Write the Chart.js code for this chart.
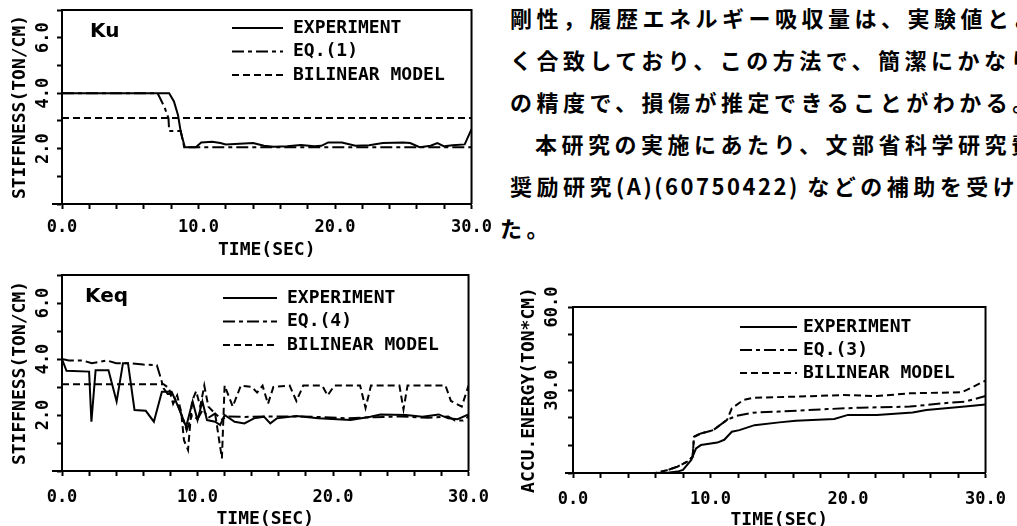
<!DOCTYPE html>
<html>
<head>
<meta charset="utf-8">
<script src="https://cdn.jsdelivr.net/npm/chart.js@4.4.1/dist/chart.umd.min.js"></script>
<style>
html,body{margin:0;padding:0;background:#fff;width:1017px;height:526px;overflow:hidden;position:relative}
canvas{position:absolute;display:block}
.jp{position:absolute;font-family:"Noto Sans CJK JP";font-weight:700;font-size:22px;letter-spacing:4.5px;white-space:nowrap;line-height:30px;height:30px;color:#000}
.jp .lat{letter-spacing:2.5px}
</style>
</head>
<body>
<canvas id="c1" width="500" height="262" style="left:0;top:0"></canvas>
<canvas id="c2" width="500" height="270" style="left:0;top:262px"></canvas>
<canvas id="c3" width="512" height="270" style="left:505px;top:262px"></canvas>
<div id="text"></div>
<script>
// ---------------- data ----------------
const xLabelValues = [0, 10, 20, 30];
const stiffLabelValues = [2, 4, 6];
const energyLabelValues = [30, 60];

const seriesNames1 = ['EXPERIMENT', 'EQ.(1)', 'BILINEAR MODEL'];
const seriesNames2 = ['EXPERIMENT', 'EQ.(4)', 'BILINEAR MODEL'];
const seriesNames3 = ['EXPERIMENT', 'EQ.(3)', 'BILINEAR MODEL'];

// Ku panel
const kuExpT = [0, 7.85, 8.2, 8.5, 8.7, 9.0, 9.8, 10.2, 11.0, 11.6, 12.0, 13.0, 14.0, 14.8, 15.5, 16.5, 17.5, 18.5, 19.0, 19.5, 20.5, 21.5, 22.5, 23.5, 25.0, 25.5, 26.2, 27.0, 27.5, 28.0, 28.6, 29.5, 30.0];
const kuExpV = [4.0, 4.0, 3.7, 3.2, 2.6, 2.05, 2.05, 2.22, 2.25, 2.2, 2.15, 2.17, 2.2, 2.1, 2.07, 2.08, 2.13, 2.08, 2.1, 2.22, 2.22, 2.1, 2.12, 2.2, 2.22, 2.2, 2.05, 2.1, 2.2, 2.08, 2.12, 2.15, 2.7];
const kuEqT = [0, 7.0, 7.5, 7.8, 7.85, 8.7, 8.95, 30];
const kuEqV = [4.0, 4.0, 3.5, 3.1, 2.63, 2.63, 2.05, 2.05];
const kuBiT = [0, 30];
const kuBiV = [3.1, 3.1];

// Keq panel
const keqExpT = [0, 0.33, 2.0, 2.17, 2.48, 3.43, 4.03, 4.5, 4.87, 5.35, 6.18, 6.78, 7.37, 8.09, 8.68, 9.16, 9.64, 10.0, 10.36, 10.7, 11.3, 11.67, 12.0, 12.74, 13.46, 14.17, 14.9, 15.37, 15.85, 17.3, 18.9, 21.3, 22.76, 23.5, 25.4, 26.6, 27.8, 28.5, 29.2, 30.0];
const keqExpV = [4.0, 3.58, 3.55, 1.76, 3.6, 3.6, 2.48, 3.85, 3.85, 2.18, 2.15, 1.76, 2.83, 2.83, 2.18, 1.58, 2.48, 1.82, 2.48, 1.82, 1.76, 1.64, 2.0, 1.76, 1.7, 1.88, 1.94, 1.7, 1.88, 1.96, 1.88, 1.82, 1.94, 2.02, 2.0, 1.94, 2.02, 1.88, 1.85, 2.02];
const keqEqT = [0, 0.5, 1.5, 2.2, 2.8, 3.3, 4.0, 5.0, 6.0, 7.0, 7.3, 7.5, 7.8, 8.2, 8.5, 8.9, 9.2, 9.6, 10.0, 10.4, 10.8, 11.3, 11.8, 12.3, 13.5, 15.0, 17.0, 19.0, 21.0, 23.0, 25.0, 27.0, 28.5, 29.0, 29.6, 30.0];
const keqEqV = [4.0, 3.95, 3.95, 3.85, 3.9, 3.95, 3.85, 3.85, 3.8, 3.78, 3.3, 2.95, 2.75, 2.75, 2.4, 1.9, 1.45, 2.0, 1.85, 2.2, 1.9, 2.05, 1.85, 1.95, 1.93, 1.95, 1.95, 1.93, 1.88, 1.92, 1.95, 1.9, 1.95, 1.8, 1.8, 1.95];
const keqBiT = [0, 7.5, 7.9, 8.2, 8.5, 8.8, 9.0, 9.3, 9.6, 9.9, 10.2, 10.5, 10.8, 11.3, 11.8, 12.0, 12.6, 13.2, 14.0, 14.4, 14.8, 15.2, 15.6, 16.8, 17.3, 17.8, 19.2, 19.6, 20.1, 22.0, 22.4, 22.8, 24.9, 25.2, 25.5, 28.3, 28.7, 29.5, 30.0];
const keqBiV = [3.1, 3.1, 2.95, 2.4, 2.7, 2.1, 1.1, 0.75, 2.5, 2.85, 2.3, 3.05, 2.3, 2.05, 0.45, 3.05, 2.3, 3.05, 3.0, 2.8, 3.05, 2.4, 3.0, 3.05, 2.5, 3.05, 3.05, 2.7, 3.05, 3.05, 2.25, 3.05, 3.05, 2.2, 3.05, 3.05, 2.5, 2.3, 3.05];

// Accumulated energy panel
const enExpT = [0, 6.0, 7.0, 7.6, 8.0, 8.6, 8.95, 9.3, 10.5, 11.0, 11.55, 12.1, 13.2, 15.0, 16.2, 19.0, 20.0, 22.1, 24.7, 25.7, 27.1, 28.5, 30];
const enExpV = [0, 0, 0.2, 0.5, 1.1, 4.7, 8.9, 10.1, 11.0, 12.0, 14.9, 15.5, 17.3, 18.3, 18.9, 19.5, 21.0, 21.0, 21.9, 22.8, 23.4, 24.0, 24.8];
const enEqT = [0, 6.0, 6.9, 7.6, 8.3, 8.7, 8.8, 9.3, 10.2, 11.2, 11.9, 13.1, 15.0, 18.5, 20.9, 24.5, 26.9, 28.5, 30];
const enEqV = [0, 0, 1.1, 2.3, 4.1, 5.9, 13.1, 14.3, 15.5, 19.2, 20.7, 21.8, 22.2, 23.1, 23.6, 24.0, 25.2, 25.8, 27.8];
const enBiT = [0, 6.0, 6.9, 7.6, 8.3, 8.7, 8.8, 9.3, 10.2, 11.2, 11.55, 12.4, 13.1, 16.2, 19.7, 22.1, 24.5, 28.3, 30];
const enBiV = [0, 0, 1.1, 2.3, 4.1, 5.9, 13.1, 14.3, 15.5, 19.2, 23.4, 26.4, 27.2, 27.6, 28.2, 27.8, 28.8, 29.2, 33.4];

const textLines = [
  '剛性，履歴エネルギー吸収量は、実験値とよ',
  'く合致しており、この方法で、簡潔にかなり',
  'の精度で、損傷が推定できることがわかる。',
  '本研究の実施にあたり、文部省科学研究費',
  '奨励研究(A)(60750422) などの補助を受け',
  'た。'
];

// ---------------- rendering ----------------
const MONO = '"DejaVu Sans Mono", "Liberation Mono", monospace';
Chart.defaults.color = '#000';
Chart.defaults.font.family = MONO;
Chart.defaults.font.weight = 'bold';

const textPos = [[510, 17], [510, 59], [510, 101], [535, 143], [510, 185], [500, 227]];
const holder = document.getElementById('text');
textLines.forEach((t, i) => {
  const d = document.createElement('div');
  d.className = 'jp';
  t.split(/([\x20-\x7e]+)/).forEach(part => {
    if (!part) return;
    if (/^[\x20-\x7e]+$/.test(part)) {
      const s = document.createElement('span');
      s.className = 'lat';
      s.textContent = part;
      d.appendChild(s);
    } else {
      d.appendChild(document.createTextNode(part));
    }
  });
  d.style.left = textPos[i][0] + 'px';
  d.style.top = (textPos[i][1] - 15) + 'px';
  holder.appendChild(d);
});

const pts = (T, V) => T.map((t, i) => ({x: t, y: V[i]}));
const DASH = [[], [12, 4, 4, 4], [7, 4]];

const panelPlugin = {
  id: 'panel',
  afterDraw(chart, args, o) {
    const {ctx, chartArea: a} = chart;
    ctx.save();
    ctx.strokeStyle = '#000';
    ctx.lineWidth = 2;
    ctx.setLineDash([]);
    ctx.beginPath();
    ctx.moveTo(a.left, a.top); ctx.lineTo(a.right, a.top); ctx.lineTo(a.right, a.bottom);
    ctx.moveTo(a.left - o.axisExt, a.bottom); ctx.lineTo(a.left, a.bottom);
    ctx.stroke();
    ctx.fillStyle = '#000';
    ctx.textBaseline = 'middle';
    if (o.label) {
      ctx.font = 'bold 20px "DejaVu Sans"';
      ctx.fillText(o.label, a.left + o.labelX, a.top + o.labelY);
    }
    ctx.font = 'bold 18px ' + MONO;
    chart.data.datasets.forEach((ds, i) => {
      const y = a.top + o.legY + i * o.legGap;
      const x0 = a.left + o.legX;
      ctx.setLineDash(ds.borderDash || []);
      ctx.beginPath(); ctx.moveTo(x0, y); ctx.lineTo(x0 + o.legLen, y); ctx.stroke();
      ctx.setLineDash([]);
      ctx.fillText(ds.label, x0 + o.legLen + o.legPad, y);
    });
    ctx.restore();
  }
};

function makeChart(id, c) {
  const datasets = c.series.map((s, i) => ({
    label: c.names[i],
    data: pts(s[0], s[1]),
    borderColor: '#000',
    borderWidth: 2,
    borderDash: DASH[i],
    pointRadius: 0,
    tension: 0,
    fill: false
  }));
  return new Chart(document.getElementById(id), {
    type: 'line',
    data: {datasets},
    plugins: [panelPlugin],
    options: {
      responsive: false,
      animation: false,
      layout: {padding: c.pad},
      plugins: {legend: {display: false}, tooltip: {enabled: false}, panel: c.panel},
      scales: {
        x: {
          type: 'linear', min: 0, max: 30,
          afterFit: s => { s.height = c.xH; },
          ticks: {stepSize: 2, autoSkip: false, maxRotation: 0, minRotation: 0, padding: c.xTickPad,
            font: {size: 17, weight: 'bold'}, color: '#000',
            callback: v => xLabelValues.includes(v) ? v.toFixed(1) : ''},
          grid: {display: true, drawOnChartArea: false, drawTicks: true, tickLength: 5, tickWidth: 2, color: '#000'},
          border: {display: true, color: '#000', width: 2},
          title: {display: true, text: 'TIME(SEC)', font: {size: 18, weight: 'bold'}, color: '#000', padding: {top: 0, bottom: c.xTitlePad}}
        },
        y: {
          type: 'linear', min: 0, max: c.yMax,
          afterFit: s => { s.width = c.yW; },
          ticks: {stepSize: c.yStep, autoSkip: false, minRotation: 90, maxRotation: 90, crossAlign: 'center', padding: c.yTickPad,
            font: {size: 17, weight: 'bold'}, color: '#000',
            callback: v => c.yLabels.includes(v) ? v.toFixed(1) : ''},
          grid: {display: true, drawOnChartArea: false, drawTicks: true, tickLength: 5, tickWidth: 2, color: '#000'},
          border: {display: true, color: '#000', width: 2},
          title: {display: true, text: c.yTitle, font: {size: 18, weight: 'bold'}, color: '#000', padding: {top: c.yTitlePad, bottom: 0}}
        }
      }
    }
  });
}

makeChart('c1', {
  names: seriesNames1,
  series: [[kuExpT, kuExpV], [kuEqT, kuEqV], [kuBiT, kuBiV]],
  pad: {left: 0, top: 10, right: 19, bottom: 0},
  xH: 58, yW: 62, yMax: 7, yStep: 1, yLabels: stiffLabelValues,
  xTickPad: 8, xTitlePad: 1, yTickPad: -2, yTitlePad: 10,
  yTitle: 'STIFFNESS(TON/CM)',
  panel: {label: 'Ku', labelX: 28, labelY: 22, legX: 170, legY: 18, legGap: 23.5, legLen: 51, legPad: 10, axisExt: 10}
});

makeChart('c2', {
  names: seriesNames2,
  series: [[keqExpT, keqExpV], [keqEqT, keqEqV], [keqBiT, keqBiV]],
  pad: {left: 0, top: 13, right: 19, bottom: 0},
  xH: 61, yW: 62, yMax: 7, yStep: 1, yLabels: stiffLabelValues,
  xTickPad: 11, xTitlePad: 2, yTickPad: -2, yTitlePad: 10,
  yTitle: 'STIFFNESS(TON/CM)',
  panel: {label: 'Keq', labelX: 23, labelY: 22, legX: 161, legY: 23, legGap: 23.5, legLen: 54, legPad: 10, axisExt: 10}
});

makeChart('c3', {
  names: seriesNames3,
  series: [[enExpT, enExpV], [enEqT, enEqV], [enBiT, enBiV]],
  pad: {left: 0, top: 45, right: 23, bottom: 0},
  xH: 59, yW: 68, yMax: 60, yStep: 10, yLabels: energyLabelValues,
  xTickPad: 11, xTitlePad: 1, yTickPad: -5, yTitlePad: 14,
  yTitle: 'ACCU.ENERGY(TON*CM)',
  panel: {label: '', labelX: 0, labelY: 0, legX: 167, legY: 20, legGap: 23, legLen: 57, legPad: 6, axisExt: 8}
});
</script>
</body>
</html>
